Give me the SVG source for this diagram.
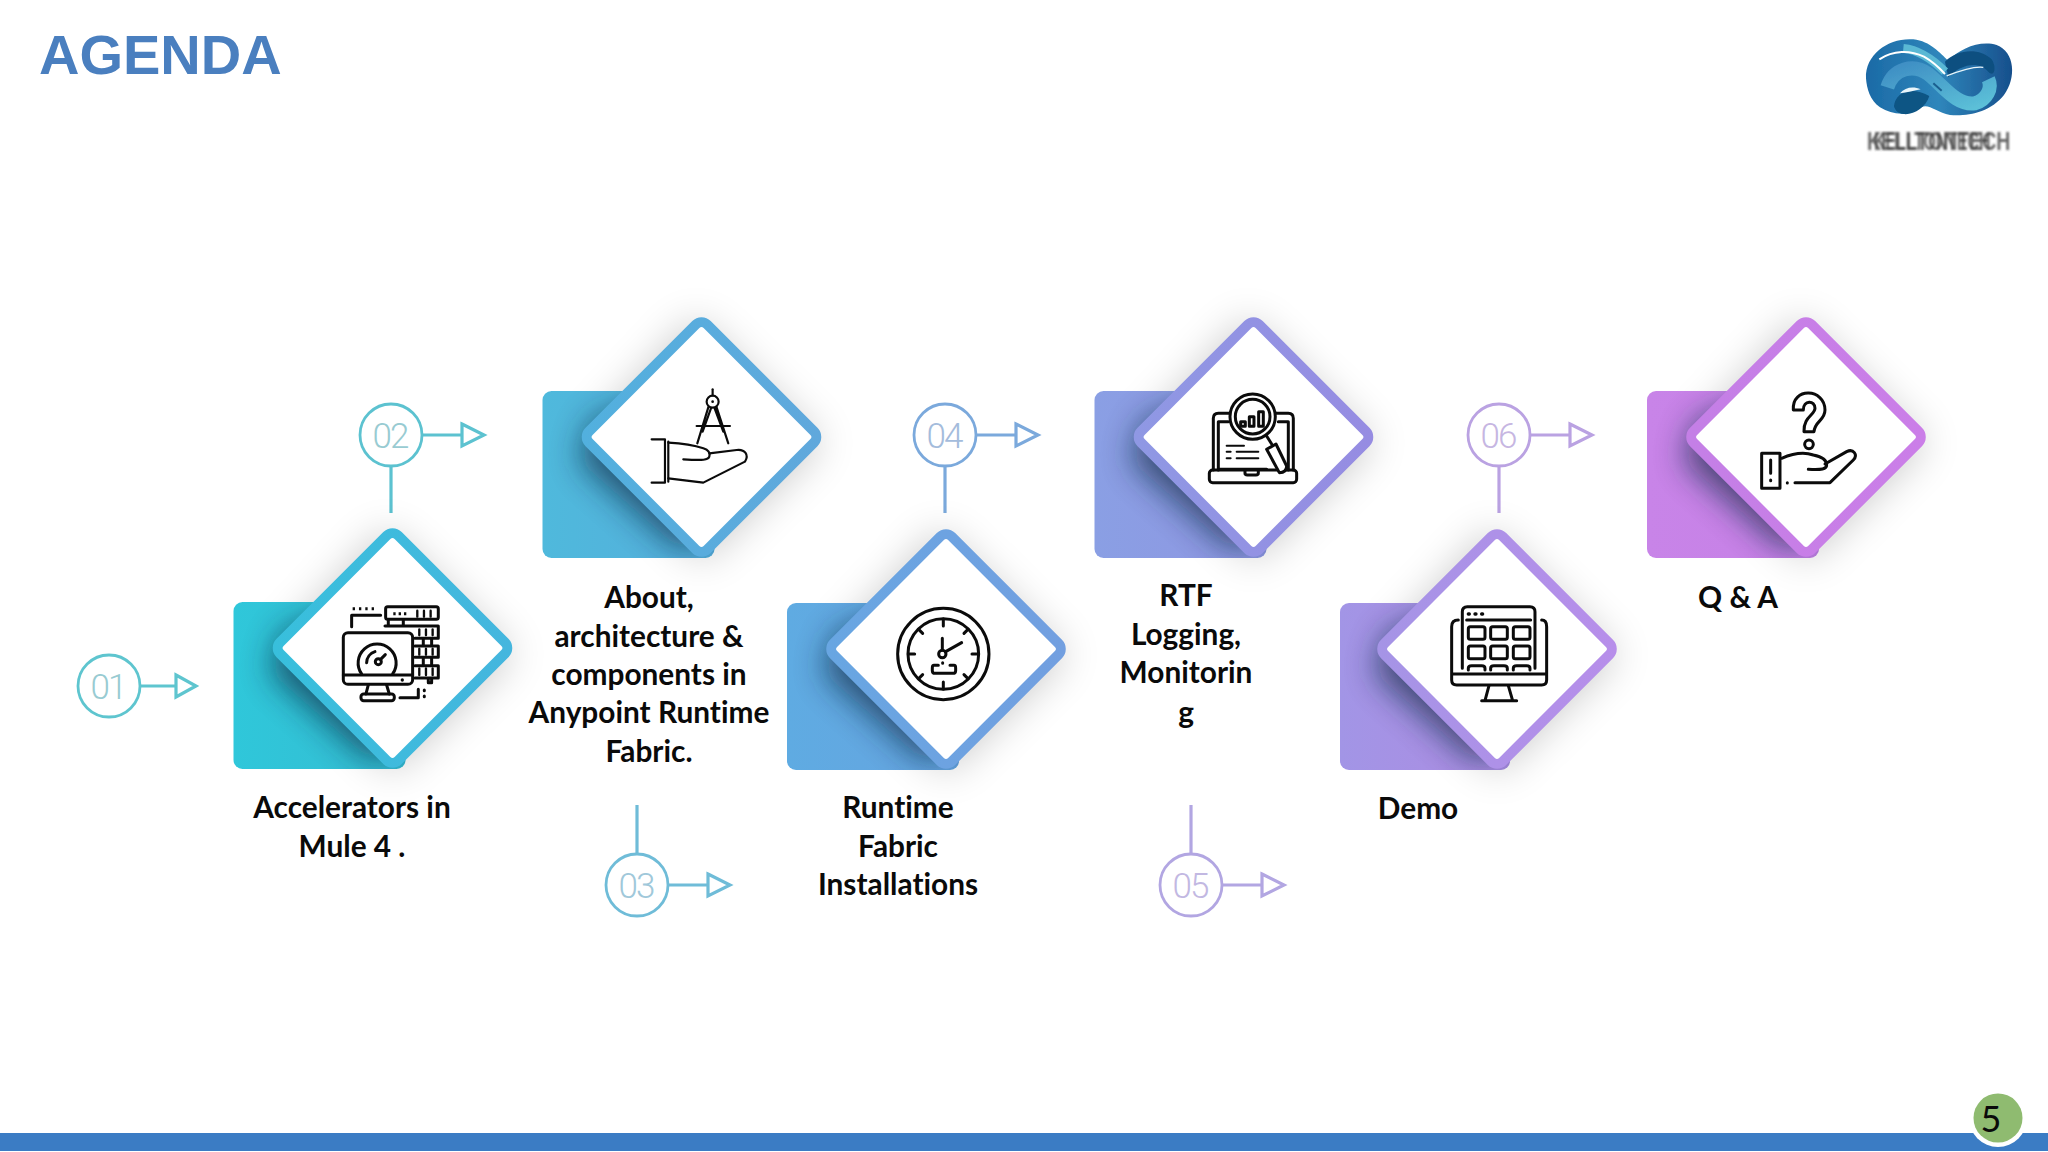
<svg xmlns="http://www.w3.org/2000/svg" width="2048" height="1152" viewBox="0 0 2048 1152">
<style>
.t{font-family:"Lato","Liberation Sans",sans-serif;font-weight:700;font-size:29.8px;fill:#0a0a0a;text-anchor:middle;font-variant-ligatures:none}
.n{font-family:"Roboto","Open Sans",sans-serif;font-weight:300;font-size:35px;text-anchor:middle;letter-spacing:-2px}
.c{fill:#fff;stroke-width:2.8}
.l{fill:none;stroke-width:3.2}
.dm{fill:#fff;stroke-width:10}
.ic{fill:none;stroke:#0b0b0b;stroke-width:9;stroke-linecap:round;stroke-linejoin:round}
.th{stroke-width:6.5}
.f{fill:#0b0b0b;stroke:none}
.lg{font-family:"Liberation Sans",sans-serif;font-weight:700;font-size:26px;fill:#3e3e3e;opacity:.78}
</style>
<defs>
<filter id="b6" x="-40%" y="-40%" width="180%" height="180%"><feGaussianBlur stdDeviation="20"/></filter>
<filter id="b7" x="-40%" y="-40%" width="180%" height="180%"><feGaussianBlur stdDeviation="16"/></filter>
<filter id="b2" x="-10%" y="-10%" width="120%" height="120%"><feGaussianBlur stdDeviation="1"/></filter>
<clipPath id="sqc"><rect x="-159" y="-46" width="172" height="167" rx="9"/></clipPath>
<polygon id="halo" points="-6,-120 122,6 0,126 -122,4" fill="#000" opacity=".2" filter="url(#b6)"/>
<g id="under" clip-path="url(#sqc)"><polygon points="0,-60 100,30 15,100 -22,112 -122,24 -110,-15" fill="#0c2a44" opacity=".7" filter="url(#b7)"/></g>
<linearGradient id="s1" x1="0" y1="0" x2="1" y2="0"><stop offset="0" stop-color="#2fc7da"/><stop offset="1" stop-color="#35bcd2"/></linearGradient>
<linearGradient id="s2" x1="0" y1="0" x2="1" y2="0"><stop offset="0" stop-color="#4fb9dc"/><stop offset="1" stop-color="#55aedc"/></linearGradient>
<linearGradient id="s3" x1="0" y1="0" x2="1" y2="0"><stop offset="0" stop-color="#5fabe2"/><stop offset="1" stop-color="#66a4e0"/></linearGradient>
<linearGradient id="s4" x1="0" y1="0" x2="1" y2="0"><stop offset="0" stop-color="#8a9fe4"/><stop offset="1" stop-color="#8f96e2"/></linearGradient>
<linearGradient id="s5" x1="0" y1="0" x2="1" y2="0"><stop offset="0" stop-color="#a295e6"/><stop offset="1" stop-color="#ac8ce2"/></linearGradient>
<linearGradient id="s6" x1="0" y1="0" x2="1" y2="0"><stop offset="0" stop-color="#c884e8"/><stop offset="1" stop-color="#c680e6"/></linearGradient>
<linearGradient id="d1" x1="0" y1="1" x2="1" y2="0"><stop offset="0" stop-color="#38bfdc"/><stop offset="1" stop-color="#45b6de"/></linearGradient>
<linearGradient id="d2" x1="0" y1="1" x2="1" y2="0"><stop offset="0" stop-color="#52b0de"/><stop offset="1" stop-color="#60a8dc"/></linearGradient>
<linearGradient id="d3" x1="0" y1="1" x2="1" y2="0"><stop offset="0" stop-color="#68a6e2"/><stop offset="1" stop-color="#729fe0"/></linearGradient>
<linearGradient id="d4" x1="0" y1="1" x2="1" y2="0"><stop offset="0" stop-color="#8f98e4"/><stop offset="1" stop-color="#968ce2"/></linearGradient>
<linearGradient id="d5" x1="0" y1="1" x2="1" y2="0"><stop offset="0" stop-color="#a594e6"/><stop offset="1" stop-color="#b78eea"/></linearGradient>
<linearGradient id="d6" x1="0" y1="1" x2="1" y2="0"><stop offset="0" stop-color="#c47fe6"/><stop offset="1" stop-color="#cb7ee8"/></linearGradient>
<linearGradient id="lgb" x1="0" y1="0" x2="1" y2="0"><stop offset="0" stop-color="#1b6aa6"/><stop offset=".5" stop-color="#2f86bb"/><stop offset="1" stop-color="#174f8c"/></linearGradient>
<linearGradient id="lgl" x1="0" y1="0" x2="1" y2="1"><stop offset="0" stop-color="#3f8fc4"/><stop offset="1" stop-color="#5cc0d8"/></linearGradient>
</defs>
<rect width="2048" height="1152" fill="#fff"/>
<text x="39" y="74" font-family="Liberation Sans" font-weight="700" font-size="56" fill="#4a7fbf">AGENDA</text>

<g id="logo" transform="translate(1800,0) scale(.3333)" filter="url(#b2)">
<path fill="url(#lgb)" d="M198,235C195,160 270,112 340,118C392,124 420,160 445,182C480,145 540,120 590,135C645,155 650,235 612,285C570,338 500,350 450,345C410,338 385,310 365,322C330,348 280,348 240,322C210,302 200,265 198,235Z"/>
<path fill="#0d5484" d="M282,318C285,280 330,255 388,288C378,322 340,346 310,342C295,340 285,332 282,318Z"/>
<path fill="#eaf6fb" d="M300,280C315,262 340,258 362,268C345,272 320,278 300,280Z"/>
<path fill="#0d4f80" d="M435,185C470,150 535,140 575,178C590,200 585,235 565,215C535,180 480,195 445,232Z"/>
<path fill="none" stroke="url(#lgl)" stroke-width="42" d="M262,262C280,205 340,190 385,222C430,258 470,318 525,310C560,300 578,265 565,238"/>
<path fill="none" stroke="#5ab8d4" stroke-width="26" d="M310,145C360,150 400,180 435,215"/>
<path fill="none" stroke="#fff" stroke-width="6" d="M238,178C280,150 330,150 372,170C400,186 415,200 435,222"/>
<path fill="none" stroke="#e8f6fa" stroke-width="4" d="M440,228C480,212 520,198 550,202"/>
<path fill="none" stroke="#1a5f8f" stroke-width="6" d="M400,250L425,272"/>
</g>
<g id="logo-text" filter="url(#b2)">
<text class="lg" transform="translate(1867,150) scale(.75,1)">KELLTONTECH</text>
<text class="lg" transform="translate(1874,150) scale(.61,1)">KELLTONTECH</text>
</g>

<g id="connectors">
<g stroke="#5ec5cf" class="l"><path d="M140,686H176M176,675L196,686L176,697Z"/></g>
<g stroke="#5cc2d0" class="l"><path d="M423,435H462M462,424L484,435L462,446Z"/><path d="M391,466V513"/></g>
<g stroke="#6fbcd8" class="l"><path d="M669,885H708M708,874L730,885L708,896Z"/><path d="M637,805V853"/></g>
<g stroke="#7ba9dc" class="l"><path d="M977,435H1016M1016,424L1038,435L1016,446Z"/><path d="M945,466V513"/></g>
<g stroke="#b2a6e2" class="l"><path d="M1223,885H1262M1262,874L1284,885L1262,896Z"/><path d="M1191,805V853"/></g>
<g stroke="#baa2e2" class="l"><path d="M1531,435H1570M1570,424L1592,435L1570,446Z"/><path d="M1499,466V513"/></g>
</g>

<g id="badge-01"><circle class="c" cx="109" cy="686" r="31" stroke="#5ec5cf"/><text class="n" x="108" y="699" fill="#98cbd2">01</text></g>
<g id="badge-02"><circle class="c" cx="391" cy="435" r="31" stroke="#5cc2d0"/><text class="n" x="390" y="448" fill="#98cbd2">02</text></g>
<g id="badge-03"><circle class="c" cx="637" cy="885" r="31" stroke="#6fbcd8"/><text class="n" x="636" y="898" fill="#a0c8da">03</text></g>
<g id="badge-04"><circle class="c" cx="945" cy="435" r="31" stroke="#7ba9dc"/><text class="n" x="944" y="448" fill="#a4bcdc">04</text></g>
<g id="badge-05"><circle class="c" cx="1191" cy="885" r="31" stroke="#b2a6e2"/><text class="n" x="1190" y="898" fill="#c2b8e2">05</text></g>
<g id="badge-06"><circle class="c" cx="1499" cy="435" r="31" stroke="#baa2e2"/><text class="n" x="1498" y="448" fill="#c6b6e2">06</text></g>

<g id="node-1">
<g transform="translate(392.5,648)"><use href="#halo"/><rect x="-159" y="-46" width="172" height="167" rx="9" fill="url(#s1)"/><use href="#under"/><rect class="dm" stroke="url(#d1)" x="-83.5" y="-83.5" width="167" height="167" rx="8" transform="rotate(45)"/></g>
<g class="ic" transform="translate(60,510) scale(.3333)">
<path d="M878,296H945" stroke-dasharray="7 12" stroke-linecap="butt"/>
<path d="M875,350V316H962"/>
<rect x="977" y="290" width="158" height="38" rx="6"/>
<path d="M1000,311H1040" stroke-dasharray="7 9" stroke-linecap="butt"/>
<path d="M1072,302V320M1092,302V320M1112,302V320" stroke-width="7"/>
<path d="M985,330V346M1030,330V346M975,348H1135V385H1065M1090,387V405M1115,387V405M1065,408H1135V442H1065M1090,444V462M1115,444V462M1065,467H1135V504H1065M1105,506V518H1115V506"/>
<path d="M1078,358V376M1098,358V376M1118,358V376M1078,416V434M1098,416V434M1118,416V434M1078,475V495M1098,475V495M1118,475V495" stroke-width="7"/>
<rect x="850" y="368" width="208" height="155" rx="14"/>
<path d="M850,495H1058"/><circle class="f" cx="1027" cy="510" r="5"/>
<path d="M925,525L918,552M980,525L988,552"/><rect x="903" y="552" width="100" height="20" rx="8"/>
<path d="M905,492A57,57 0 1 1 998,492"/>
<path d="M920,458A35,35 0 0 1 945,425"/>
<circle cx="955" cy="455" r="9"/><path d="M962,448L976,434"/>
<path d="M1020,563H1075V538M1093,540V542M1093,558V560"/>
</g>
</g>

<g id="node-2">
<g transform="translate(701.5,437)"><use href="#halo"/><rect x="-159" y="-46" width="172" height="167" rx="9" fill="url(#s2)"/><use href="#under"/><rect class="dm" stroke="url(#d2)" x="-83.5" y="-83.5" width="167" height="167" rx="8" transform="rotate(45)"/></g>
<g class="ic th" transform="translate(340,300) scale(.3333)">
<path d="M1118,268V286"/><circle cx="1118" cy="305" r="18"/><circle class="f" cx="1118" cy="305" r="4"/>
<path d="M1105,322L1072,430M1130,322L1165,430M1113,325L1088,395M1124,325L1150,395M1070,378H1170"/>
<path d="M935,418H975V548H935M985,425V545"/>
<path d="M985,428C1020,430 1060,435 1090,445C1105,450 1112,458 1108,470C1105,480 1090,482 1030,478"/>
<path d="M1108,460L1190,450C1215,447 1228,465 1215,485L1090,548L985,535"/>
</g>
</g>

<g id="node-3">
<g transform="translate(946,649)"><use href="#halo"/><rect x="-159" y="-46" width="172" height="167" rx="9" fill="url(#s3)"/><use href="#under"/><rect class="dm" stroke="url(#d3)" x="-83.5" y="-83.5" width="167" height="167" rx="8" transform="rotate(45)"/></g>
<g class="ic" transform="translate(780,520) scale(.3333)">
<circle cx="490" cy="402" r="137"/><circle cx="490" cy="402" r="106"/>
<path d="M490,297V318M490,486V507M385,402H404M576,402H595M416,328L428,340M552,464L564,476M564,328L552,340M428,464L416,476"/>
<circle cx="487" cy="402" r="11"/><path d="M487,355V390M497,395L545,368"/>
<path d="M475,436H462Q457,436 457,444V452Q457,460 466,460H518Q527,460 527,452V444Q527,436 522,436H510M488,428V430"/>
</g>
</g>

<g id="node-4">
<g transform="translate(1253.5,437)"><use href="#halo"/><rect x="-159" y="-46" width="172" height="167" rx="9" fill="url(#s4)"/><use href="#under"/><rect class="dm" stroke="url(#d4)" x="-83.5" y="-83.5" width="167" height="167" rx="8" transform="rotate(45)"/></g>
<g class="ic" transform="translate(1090,310) scale(.3333)">
<path d="M370,480V325Q370,310 385,310H422M555,310H595Q610,310 610,325V480M385,480V335H415M565,335H595V480M385,478H530"/>
<rect x="358" y="480" width="262" height="38" rx="10"/><path d="M465,482V490Q465,495 472,495H498Q505,495 505,490V482"/>
<circle cx="488" cy="320" r="68" fill="#fff"/><circle cx="488" cy="320" r="52"/>
<rect x="452" y="335" width="14" height="14"/><rect x="478" y="320" width="14" height="29"/><rect x="506" y="305" width="14" height="44"/>
<path d="M530,378L545,402M530,418L558,402L590,468Q590,488 568,488Z" fill="#fff"/>
<path d="M410,407H462M410,425H422M440,425H505M410,445H422M440,445H505" stroke-width="6"/>
</g>
</g>

<g id="node-5">
<g transform="translate(1497,649)"><use href="#halo"/><rect x="-157" y="-46" width="170" height="167" rx="9" fill="url(#s5)"/><use href="#under"/><rect class="dm" stroke="url(#d5)" x="-83.5" y="-83.5" width="167" height="167" rx="8" transform="rotate(45)"/></g>
<g class="ic" transform="translate(1340,520) scale(.3333)">
<path d="M367,445V275Q367,260 382,260H570Q585,260 585,275V445M380,300H572"/>
<path d="M385,282H388M405,282H408M425,282H428" stroke-width="10"/>
<rect x="385" y="320" width="50" height="38" rx="6"/><rect x="452" y="320" width="50" height="38" rx="6"/><rect x="520" y="320" width="50" height="38" rx="6"/>
<rect x="385" y="378" width="50" height="38" rx="6"/><rect x="452" y="378" width="50" height="38" rx="6"/><rect x="520" y="378" width="50" height="38" rx="6"/>
<path d="M385,450V445Q385,437 395,437H425Q435,437 435,445V450M452,450V445Q452,437 462,437H492Q502,437 502,445V450M520,450V445Q520,437 530,437H560Q570,437 570,445V450"/>
<path d="M355,300Q335,300 335,320V480Q335,495 350,495H605Q620,495 620,480V320Q620,300 605,300M335,462H620"/>
<path d="M447,497L435,542M505,497L518,542M425,542H530"/>
</g>
</g>

<g id="node-6">
<g transform="translate(1806,437)"><use href="#halo"/><rect x="-159" y="-46" width="172" height="167" rx="9" fill="url(#s6)"/><use href="#under"/><rect class="dm" stroke="url(#d6)" x="-83.5" y="-83.5" width="167" height="167" rx="8" transform="rotate(45)"/></g>
<g class="ic" transform="translate(1640,310) scale(.3333)">
<path d="M460,300C455,230 555,235 555,300C555,332 525,332 522,365H492C490,320 525,315 525,295C525,270 490,270 490,300Z"/>
<circle cx="507" cy="403" r="13"/>
<rect x="365" y="430" width="55" height="105"/>
<path d="M392,450V490M392,510V512"/>
<path d="M425,445C460,430 490,425 520,435C545,440 560,450 560,465C560,478 545,480 505,478"/>
<path d="M555,462L620,425C640,415 655,435 640,450L570,518H465M442,518V519"/>
</g>
</g>

<g id="labels">
<text class="t" x="352" y="818">Accelerators in</text>
<text class="t" x="352" y="857">Mule 4 .</text>
<text class="t" x="649" y="608">About,</text>
<text class="t" x="649" y="647">architecture &amp;</text>
<text class="t" x="649" y="685">components in</text>
<text class="t" x="649" y="723">Anypoint Runtime</text>
<text class="t" x="649" y="762">Fabric.</text>
<text class="t" x="898" y="818">Runtime</text>
<text class="t" x="898" y="857">Fabric</text>
<text class="t" x="898" y="895">Installations</text>
<text class="t" x="1186" y="606">RTF</text>
<text class="t" x="1186" y="645">Logging,</text>
<text class="t" x="1186" y="683">Monitorin</text>
<text class="t" x="1186" y="723">g</text>
<text class="t" x="1418" y="819">Demo</text>
<text class="t" x="1738" y="608">Q &amp; A</text>
</g>

<g id="footer">
<rect x="0" y="1133" width="2048" height="18" fill="#3b7cc4"/>
<circle cx="1998" cy="1118" r="29" fill="#fff"/>
<circle cx="1998" cy="1118" r="24.5" fill="#8fbb70"/>
<text x="1991" y="1132" font-family="Lato,Liberation Sans,sans-serif" font-size="36" fill="#0a0a0a" text-anchor="middle">5</text>
</g>
</svg>
